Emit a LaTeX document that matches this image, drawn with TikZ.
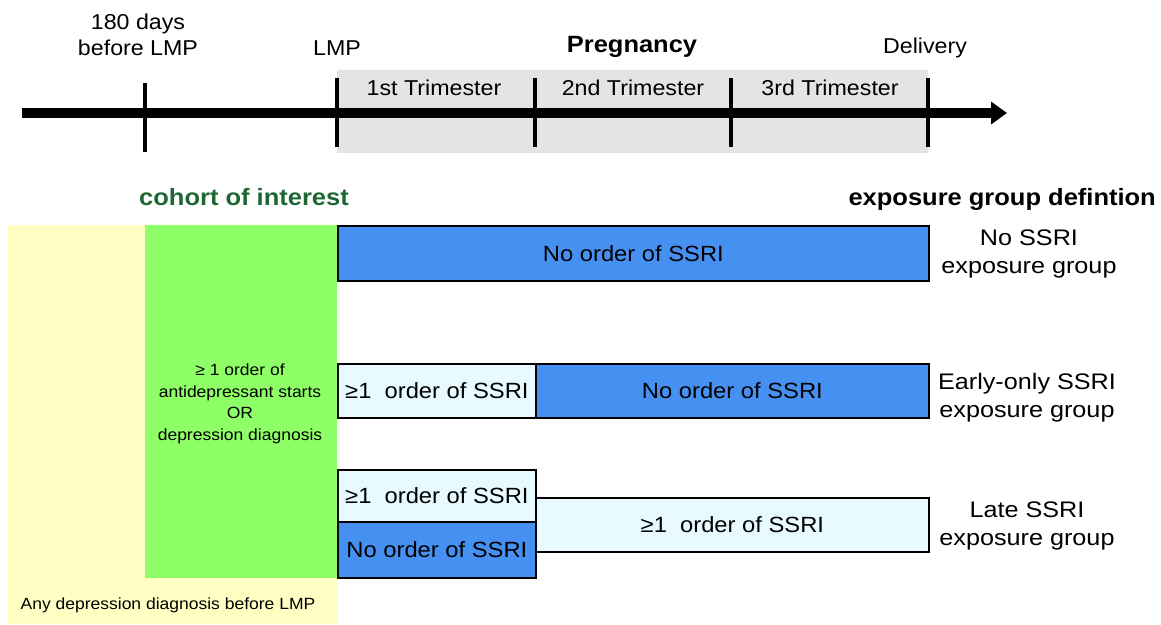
\documentclass[tikz,border=0pt]{standalone}
\usepackage{fontspec}
\setmainfont[FakeStretch=1.08]{Liberation Sans}
\newfontfamily\widefont[FakeStretch=1.12]{Liberation Sans}
\usetikzlibrary{arrows.meta}
\definecolor{sblue}{HTML}{4690F2}
\definecolor{slight}{HTML}{E6FAFF}
\definecolor{syellow}{HTML}{FFFFC4}
\definecolor{sgreen}{HTML}{8EFF66}
\definecolor{sgray}{HTML}{E4E4E4}
\definecolor{dgreen}{HTML}{1E6634}
\tikzset{
  box/.style={draw=black, line width=1.8pt, inner sep=0pt, anchor=north west, font=\fontsize{22}{24}\selectfont},
  bluebox/.style={box, fill=sblue},
  lightbox/.style={box, fill=slight},
  tick/.style={line width=3.5pt},
  lbl/.style={font=\fontsize{21.5}{26}\selectfont, align=center, inner sep=0pt},
  head/.style={font=\bfseries\fontsize{23.6}{26}\selectfont, inner sep=0pt},
  grp/.style={font=\widefont\fontsize{22.5}{28}\selectfont, align=center, inner sep=0pt},
  small/.style={font=\fontsize{16.2}{21.5}\selectfont, align=center, inner sep=0pt}
}
\begin{document}
\begin{tikzpicture}[x=1pt,y=-1pt]
\useasboundingbox (0,0) rectangle (1161,624);
% backgrounds
\fill[sgray] (337,70) rectangle (928,153);
\fill[syellow] (8,225) rectangle (337,624);
\fill[sgreen] (145,225) rectangle (337,578);
% timeline
\coordinate (tstart) at (22,113);
\coordinate (tend) at (1007,113);
\draw[line width=10pt, -{Triangle[length=16pt,width=22pt]}] (tstart) -- (tend);
\draw[tick] (145,83) -- (145,152);
\foreach \x in {337,535,731,928} \draw[tick] (\x,78) -- (\x,147);
% timeline labels
\node[lbl] (d180) at (138,35) {180 days\\before LMP};
\node[lbl] (lmp) at (337,48) {LMP};
\node[head] (preg) at (632,47) {Pregnancy};
\node[lbl] (deliv) at (925,48) {Delivery};
\node[lbl] (t1) at (434,88) {1st Trimester};
\node[lbl] (t2) at (633,88) {2nd Trimester};
\node[lbl] (t3) at (830,88) {3rd Trimester};
% headings
\node[head, text=dgreen] (coh) at (244,197) {cohort of interest};
\node[head, anchor=east] (expdef) at (1156,199) {exposure group defintion};
% left texts
\node[small] (green) at (240,404) {≥ 1 order of\\antidepressant starts\\OR\\depression diagnosis};
\node[small] (yel) at (168,605) {Any depression diagnosis before LMP};
% row 1
\node[bluebox, minimum width=591pt, minimum height=55pt] (r1) at (337,225) {No order of SSRI};
% row 2
\node[lightbox, minimum width=198pt, minimum height=54pt] (r2a) at (337,363) {≥1\ \ order of SSRI};
\node[bluebox, minimum width=393pt, minimum height=54pt] (r2b) at (535,363) {No order of SSRI};
% row 3
\node[lightbox, minimum width=198pt, minimum height=52pt] (r3a) at (337,469) {≥1\ \ order of SSRI};
\node[bluebox, minimum width=198pt, minimum height=56pt] (r3b) at (337,521) {No order of SSRI};
\node[lightbox, minimum width=393pt, minimum height=54pt] (r3c) at (535,497) {≥1\ \ order of SSRI};
% group labels
\node[grp] (g1) at (1029,254) {No SSRI\\exposure group};
\node[grp] (g2) at (1027,398) {Early-only SSRI\\exposure group};
\node[grp] (g3) at (1027,526) {Late SSRI\\exposure group};
\end{tikzpicture}
\end{document}
